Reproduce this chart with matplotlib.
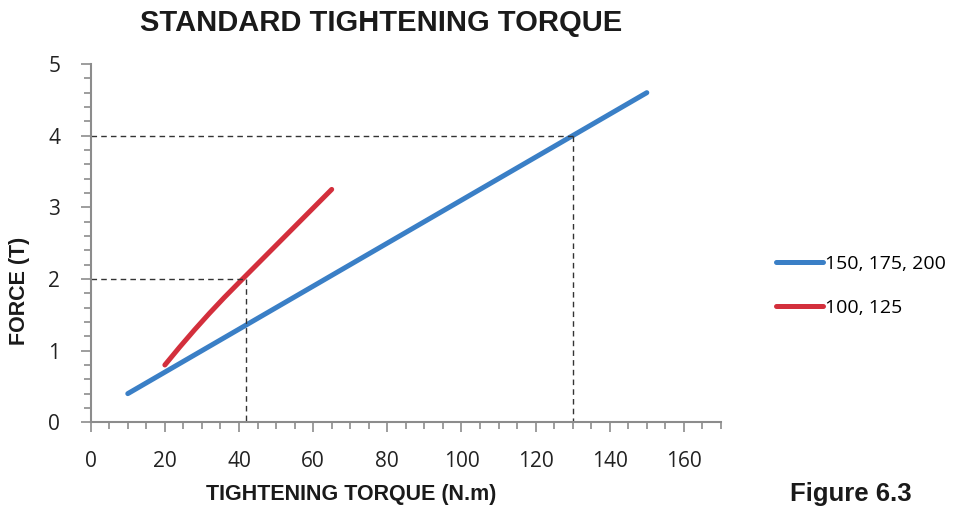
import matplotlib
matplotlib.use("Agg")
import matplotlib.pyplot as plt
from matplotlib.ticker import MultipleLocator

# data
blue_x = [10, 150]
blue_y = [0.4, 4.6]
red_x = [20, 24, 28, 32, 36, 40, 50, 65]
red_y = [0.8, 1.05, 1.29, 1.52, 1.74, 1.95, 2.47, 3.25]
labels = ["150, 175, 200", "100, 125"]
guide_x = [130, 42]
guide_y = [4, 2]

fig = plt.figure(figsize=(9.6, 5.08), dpi=100)
ax = fig.add_axes([0.0945, 0.1687, 0.6565, 0.7053])

ax.plot(blue_x, blue_y, color="#3a7fc6", lw=3.6, solid_capstyle="round", label=labels[0])
ax.plot(red_x, red_y, color="#d32f3c", lw=3.6, solid_capstyle="round",
        solid_joinstyle="round", label=labels[1])

# dashed guide lines
for gx, gy in zip(guide_x, guide_y):
    ax.plot([0, gx], [gy, gy], ls=(0, (4, 3)), color="#333333", lw=1)
    ax.plot([gx, gx], [gy, 0], ls=(0, (4, 3)), color="#333333", lw=1)

ax.set_xlim(0, 170)
ax.set_ylim(0, 5)
ax.set_xticks(range(0, 161, 20))
ax.xaxis.set_minor_locator(MultipleLocator(5))
ax.yaxis.set_major_locator(MultipleLocator(1))
ax.yaxis.set_minor_locator(MultipleLocator(0.2))

for s in ["top", "right"]:
    ax.spines[s].set_visible(False)
for s in ["left", "bottom"]:
    ax.spines[s].set_color("#8c8c8c")
    ax.spines[s].set_linewidth(1.5)
ax.tick_params(which="both", color="#8c8c8c", width=1.2, labelsize=15, labelcolor="#222222")
ax.tick_params(which="major", length=7)
ax.tick_params(which="minor", length=5)
ax.tick_params(axis="x", which="major", pad=14)
ax.tick_params(axis="y", which="major", pad=15)
for t in ax.get_xticklabels() + ax.get_yticklabels():
    t.set_family("Open Sans")

fig.text(0.397, 0.955, "STANDARD TIGHTENING TORQUE", ha="center", va="center",
         fontsize=21, fontweight="bold", family="Liberation Sans", color="#1a1a1a")
fig.text(0.366, 0.027, "TIGHTENING TORQUE (N.m)", ha="center", va="center",
         fontsize=15.5, fontweight="bold", family="Liberation Sans", color="#1a1a1a")
fig.text(0.020, 0.427, "FORCE (T)", ha="center", va="center", rotation=90,
         fontsize=15.5, fontweight="bold", family="Liberation Sans", color="#1a1a1a")
fig.text(0.886, 0.027, "Figure 6.3", ha="center", va="center",
         fontsize=18.5, fontweight="bold", family="Liberation Sans", color="#1a1a1a")

leg = ax.legend(loc="center left", bbox_to_anchor=(1.06, 0.38), frameon=False,
                prop={"family": "Open Sans", "size": 14}, handlelength=2.4,
                handletextpad=0.1, labelspacing=1.35)

fig.savefig("out.png", dpi=100)
